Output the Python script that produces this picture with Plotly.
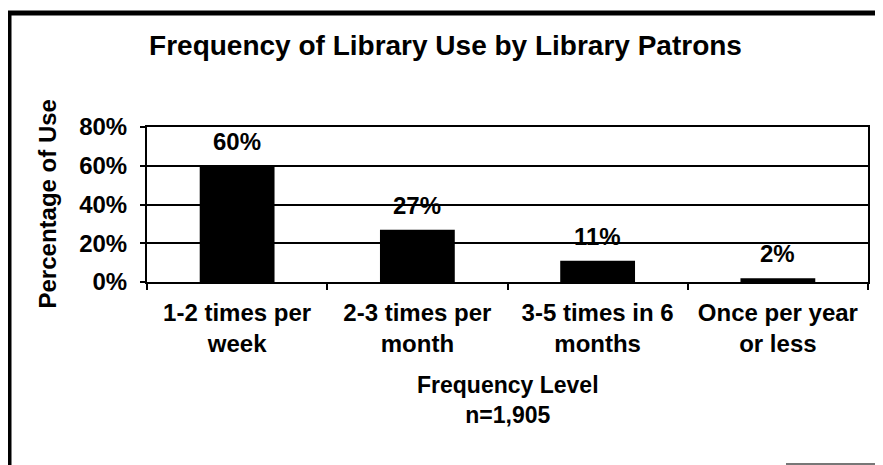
import plotly.graph_objects as go

categories = ["1-2 times per<br>week", "2-3 times per<br>month", "3-5 times in 6<br>months", "Once per year<br>or less"]
values = [60, 27, 11, 2]
y_ticks = [0, 20, 40, 60, 80]
y_tick_labels = ["0%", "20%", "40%", "60%", "80%"]

FONT = "Liberation Sans, Arial, sans-serif"

# page body has an 8px margin; the figure is sized to fill the rest of the window
OFF = 8
W, H = 883 - OFF, 465 - OFF
L, R, T, B = 147 - OFF, 15, 127 - OFF, 183
pw = W - L - R
ph = H - T - B

def px(x):
    # screen x -> paper x
    return (x - OFF - L) / pw

def py(y):
    # screen y -> paper y
    return (H - B - (y - OFF)) / ph

fig = go.Figure()
fig.add_trace(go.Bar(
    x=categories, y=values,
    marker=dict(color="black", line=dict(width=0)),
    showlegend=False, hoverinfo="skip",
))

annotations = []
for c, v in zip(categories, values):
    annotations.append(dict(
        x=c, y=v, xref="x", yref="y", text=f"{v}%", showarrow=False,
        yanchor="bottom", yshift=9, font=dict(size=24, color="black", family=FONT, weight="bold"),
    ))
annotations.append(dict(
    x=px(47), y=0.5, xref="paper", yref="paper", text="Percentage of Use",
    textangle=-90, showarrow=False, xanchor="center", yanchor="middle",
    font=dict(size=24, color="black", family=FONT, weight="bold"),
))
annotations.append(dict(
    x=0.5, y=py(400), xref="paper", yref="paper", text="Frequency Level<br>n=1,905",
    showarrow=False, xanchor="center", yanchor="middle",
    font=dict(size=23, color="black", family=FONT, weight="bold"),
))

shapes = [
    dict(type="line", xref="paper", yref="paper", x0=px(9), x1=px(9), y0=py(11), y1=py(470),
         line=dict(color="black", width=5)),
    dict(type="line", xref="paper", yref="paper", x0=px(7), x1=px(890), y0=py(13), y1=py(13),
         line=dict(color="black", width=5)),
    dict(type="line", xref="paper", yref="paper", x0=px(786), x1=px(890), y0=py(464), y1=py(464),
         line=dict(color="#777777", width=2)),
]

fig.update_layout(
    width=W, height=H,
    margin=dict(l=L, r=R, t=T, b=B),
    paper_bgcolor="white", plot_bgcolor="white",
    font=dict(family=FONT, color="black", size=24, weight="bold"),
    title=dict(text="Frequency of Library Use by Library Patrons", x=0.5, xref="container",
               y=1 - (45 - OFF) / H, yref="container", xanchor="center", yanchor="middle",
               font=dict(size=28, family=FONT, color="black", weight="bold")),
    bargap=0.585,
    annotations=annotations,
    shapes=shapes,
)
fig.update_xaxes(
    showline=True, linecolor="black", linewidth=2, mirror=True,
    ticks="outside", ticklen=6, tickcolor="black", tickwidth=1.5, tickson="boundaries",
    tickfont=dict(size=24, family=FONT, color="black", weight="bold"),
    ticklabelstandoff=8, showgrid=False, fixedrange=True,
)
fig.update_yaxes(
    range=[0, 80], tickvals=y_ticks, ticktext=y_tick_labels,
    showline=True, linecolor="black", linewidth=2, mirror=True,
    ticks="outside", ticklen=5, tickcolor="black", tickwidth=1.5,
    showgrid=True, gridcolor="black", gridwidth=1.5,
    tickfont=dict(size=24, family=FONT, color="black", weight="bold"),
    ticklabelstandoff=8, zeroline=False, fixedrange=True,
)

fig.write_html("out.html")
